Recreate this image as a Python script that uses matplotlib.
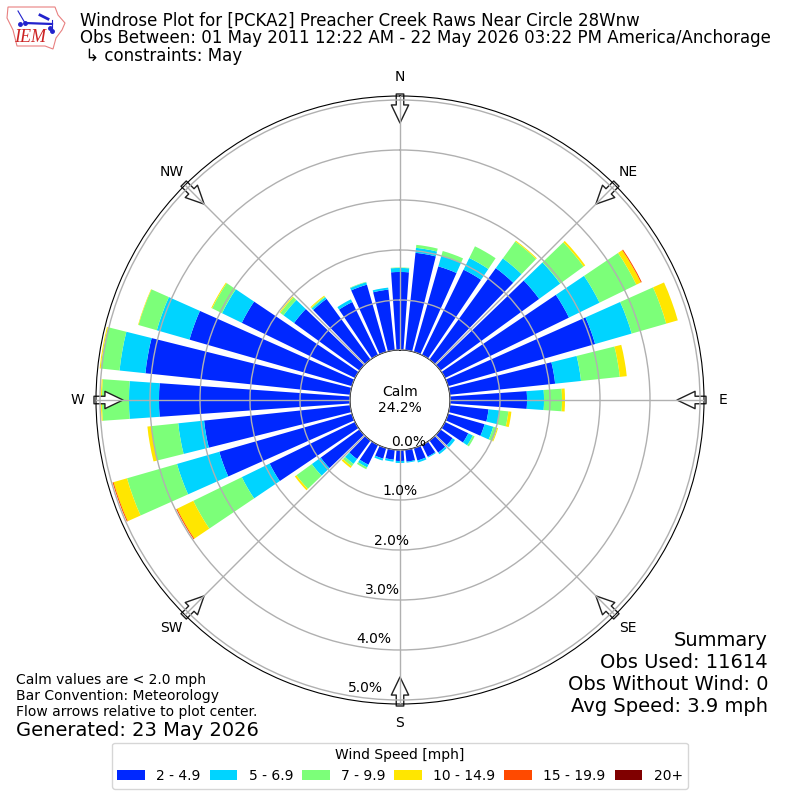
import numpy as np
import matplotlib
matplotlib.use("Agg")
import matplotlib.pyplot as plt
from matplotlib.patches import Polygon

directions = list(range(0, 360, 10))
speed_2_5 = [1.56, 1.96, 1.78, 1.90, 2.26, 2.44, 2.76, 3.06, 2.12, 1.54, .78, .76, .52, .30, .30, .26, .26, .24,
             .22, .20, .22, .44, .46, .96, 1.90, 2.76, 2.94, 3.82, 4.12, 3.38, 2.52, 1.62, 1.50, 1.18, 1.40, 1.22]
speed_5_7 = [.08, .10, .22, .26, .24, .52, .68, .76, .52, .34, .22, .18, .10, .06, .04, .02, .04, .02,
             .04, .04, .04, .06, .12, .22, .62, .88, .52, .60, .52, .68, .44, .26, .04, .06, .05, .04]
speed_7_10 = [.01, .06, .10, .26, .42, .58, .82, .72, .78, .36, .18, .08, .04, 0, 0, 0, 0, 0,
              0, 0, 0, .04, .06, .38, 1.08, 1.04, .54, .54, .38, .38, .22, .08, .02, 0, .01, 0]
speed_10_15 = [0, 0, 0, 0, .02, .04, .10, .24, .14, .06, .06, .02, 0, 0, 0, 0, 0, 0,
               0, 0, 0, 0, .04, .04, .36, .28, .08, .02, .02, .01, .02, .02, .02, 0, 0, 0]
speed_15_20 = [0, 0, 0, 0, 0, 0, .02, 0, 0, 0, 0, 0, 0, 0, 0, 0, 0, 0,
               0, 0, 0, 0, 0, 0, .02, .02, 0, 0, 0, 0, 0, 0, 0, 0, 0, 0]
speed_20 = [0] * 36
series = [speed_2_5, speed_5_7, speed_7_10, speed_10_15, speed_15_20, speed_20]
labels = ["2 - 4.9", "5 - 6.9", "7 - 9.9", "10 - 14.9", "15 - 19.9", "20+"]
colors = ["#0028ff", "#00d4ff", "#7cff79", "#ffe600", "#ff4a00", "#800000"]
compass = ["N", "NE", "E", "SE", "S", "SW", "W", "NW"]
compass_deg = [0, 45, 90, 135, 180, 225, 270, 315]
rticks = [0, 1, 2, 3, 4, 5]

fig = plt.figure(figsize=(8, 8), dpi=100)
ax = fig.add_axes([96 / 800, 96 / 800, 608 / 800, 608 / 800], projection="polar")
ax.set_theta_zero_location("N")
ax.set_theta_direction(-1)
theta = np.deg2rad(directions)
bottom = np.zeros(36)
handles = []
for vals, col, lab in zip(series, colors, labels):
    v = np.array(vals)
    h = ax.bar(theta, v, width=np.deg2rad(8), bottom=bottom, color=col, linewidth=0, label=lab, zorder=2)
    handles.append(h)
    bottom += v
ax.set_axisbelow(False)
ax.set_rorigin(-1)
ax.set_rlim(0, 5.08)
ax.set_thetagrids(compass_deg, compass, fontsize=10)
ax.tick_params(axis="x", pad=3)
ax.set_rgrids(rticks, [f"{r:.1f}%" for r in rticks], angle=190, fontsize=10)
for t in ax.yaxis.get_ticklabels():
    t.set_zorder(6)
ax.grid(True, color="#b0b0b0", linewidth=1.0, zorder=3)

for d in compass_deg:
    t = np.deg2rad(d)
    ax.annotate("", xy=(t, 4.54), xytext=(t, 5.12), xycoords="data", textcoords="data",
                annotation_clip=False, zorder=2.2,
                arrowprops=dict(facecolor="white", edgecolor="#202020", linewidth=1, width=5.4,
                                headwidth=12.5, headlength=13, shrink=0, zorder=2.2))

ax.text(0, -1, "Calm\n24.2%", ha="center", va="center", fontsize=10, zorder=7)

fig.text(80 / 800, 1 - 21 / 800, "Windrose Plot for [PCKA2] Preacher Creek Raws Near Circle 28Wnw", fontsize=12, va="center")
fig.text(80 / 800, 1 - 38 / 800, "Obs Between: 01 May 2011 12:22 AM - 22 May 2026 03:22 PM America/Anchorage", fontsize=12, va="center")
fig.text(80 / 800, 1 - 56 / 800, " ↳ constraints: May", fontsize=12, va="center")

for y, s in zip([640, 662, 684, 706], ["Summary", "Obs Used: 11614", "Obs Without Wind: 0", "Avg Speed: 3.9 mph"]):
    fig.text(768 / 800, 1 - y / 800, s, fontsize=14, ha="right", va="center")
for y, s in zip([680, 696, 712], ["Calm values are < 2.0 mph", "Bar Convention: Meteorology", "Flow arrows relative to plot center."]):
    fig.text(16 / 800, 1 - y / 800, s, fontsize=10, ha="left", va="center")
fig.text(16 / 800, 1 - 730 / 800, "Generated: 23 May 2026", fontsize=14, ha="left", va="center")

leg = fig.legend(handles=handles, labels=labels, title="Wind Speed [mph]", ncol=6, loc="lower center",
                 bbox_to_anchor=(0.5, 0.0055), fontsize=10, title_fontsize=10, columnspacing=0.65)

# logo
lax = fig.add_axes([0, 1 - 60 / 800, 75 / 800, 60 / 800])
lax.set_xlim(0, 75)
lax.set_ylim(60, 0)
lax.axis("off")
outline = [(8, 7), (55, 7), (58, 15), (65, 23), (62, 30), (56, 38), (53, 49), (45, 46), (17, 46), (13, 30), (7, 18)]
lax.add_patch(Polygon(outline, closed=True, fill=False, edgecolor="#e88080", linewidth=0.8))
lax.plot([25, 52], [23, 24], color="#2222cc", lw=1.6)
lax.plot([18, 25], [11, 23], color="#2222cc", lw=0.8)
lax.plot([40, 48], [15, 19], color="#2222cc", lw=2)
lax.plot([52, 52], [20, 31], color="#2222cc", lw=0.8)
lax.plot([25, 20, 50, 52], [23, 24, 28, 31], "o", color="#2222cc", ms=2.5)
lax.text(30, 38, "IEM", color="#cc2222", fontsize=13, family="Liberation Serif", style="italic", ha="center", va="center")

fig.savefig("out.png", dpi=100)
